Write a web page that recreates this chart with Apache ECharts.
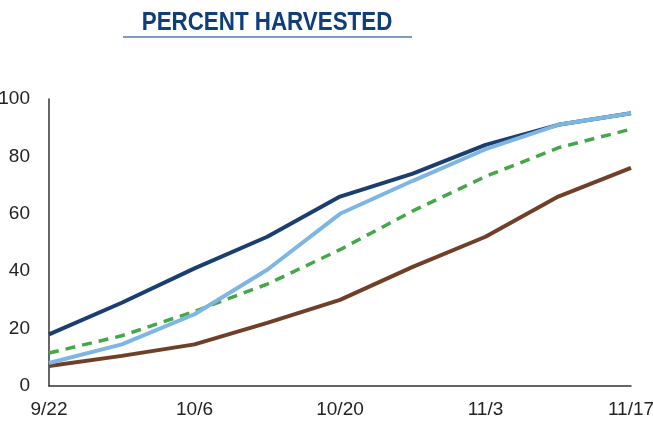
<!DOCTYPE html>
<html>
<head>
<meta charset="utf-8">
<script src="https://cdn.jsdelivr.net/npm/echarts@6/dist/echarts.min.js"></script>
<style>
html,body{margin:0;padding:0;background:#fff;}
#c{width:653px;height:425px;}
</style>
</head>
<body>
<div id="c"></div>
<script>
var categories = ['9/22','9/29','10/6','10/13','10/20','10/27','11/3','11/10','11/17'];
var yTicks = [0, 20, 40, 60, 80, 100];
var navySeries = [18, 29, 41, 52, 66, 74, 84, 91, 95];
var lightBlueSeries = [8, 14.5, 25, 40.5, 60, 71.5, 82.5, 91, 95];
var greenDashedSeries = [11.5, 17.5, 26, 35.5, 47.5, 61, 73, 83, 89.5];
var brownSeries = [7, 10.5, 14.5, 22, 30, 41.5, 52, 66, 76];

var FONT = '"Liberation Sans", Arial, sans-serif';
var chart = echarts.init(document.getElementById('c'), null, {renderer: 'canvas'});
chart.setOption({
  animation: false,
  backgroundColor: '#ffffff',
  graphic: [
    {type: 'text', x: 267, y: 23, scaleX: 0.86, style: {text: 'PERCENT HARVESTED', x: 0, y: 0, textAlign: 'center', textVerticalAlign: 'middle', fill: '#0f3e7a', font: 'bold 26px ' + FONT}},
    {type: 'line', shape: {x1: 123, y1: 37, x2: 412, y2: 37}, style: {stroke: '#7d9cc0', lineWidth: 2}}
  ],
  grid: {left: 49, right: 22, top: 99, bottom: 39, containLabel: false, outerBoundsMode: 'none'},
  xAxis: {
    type: 'category',
    data: categories,
    boundaryGap: false,
    axisLine: {lineStyle: {color: '#333', width: 1.5}},
    axisTick: {show: false},
    axisLabel: {interval: 1, color: '#222', fontSize: 19, fontFamily: FONT, margin: 14},
    splitLine: {show: false}
  },
  yAxis: {
    type: 'value',
    min: yTicks[0],
    max: yTicks[yTicks.length - 1],
    interval: yTicks[1] - yTicks[0],
    axisLine: {show: true, lineStyle: {color: '#333', width: 1.5}},
    axisTick: {show: false},
    axisLabel: {color: '#222', fontSize: 19, fontFamily: FONT, margin: 19},
    splitLine: {show: false}
  },
  series: [
    {type: 'line', data: brownSeries, symbol: 'none', lineStyle: {color: '#6f3f28', width: 4}},
    {type: 'line', data: greenDashedSeries, symbol: 'none', lineStyle: {color: '#45a74a', width: 3.5, type: [10, 7]}},
    {type: 'line', data: navySeries, symbol: 'none', lineStyle: {color: '#1a3e6e', width: 4}},
    {type: 'line', data: lightBlueSeries, symbol: 'none', lineStyle: {color: '#7db5e3', width: 4}}
  ]
});
</script>
</body>
</html>
